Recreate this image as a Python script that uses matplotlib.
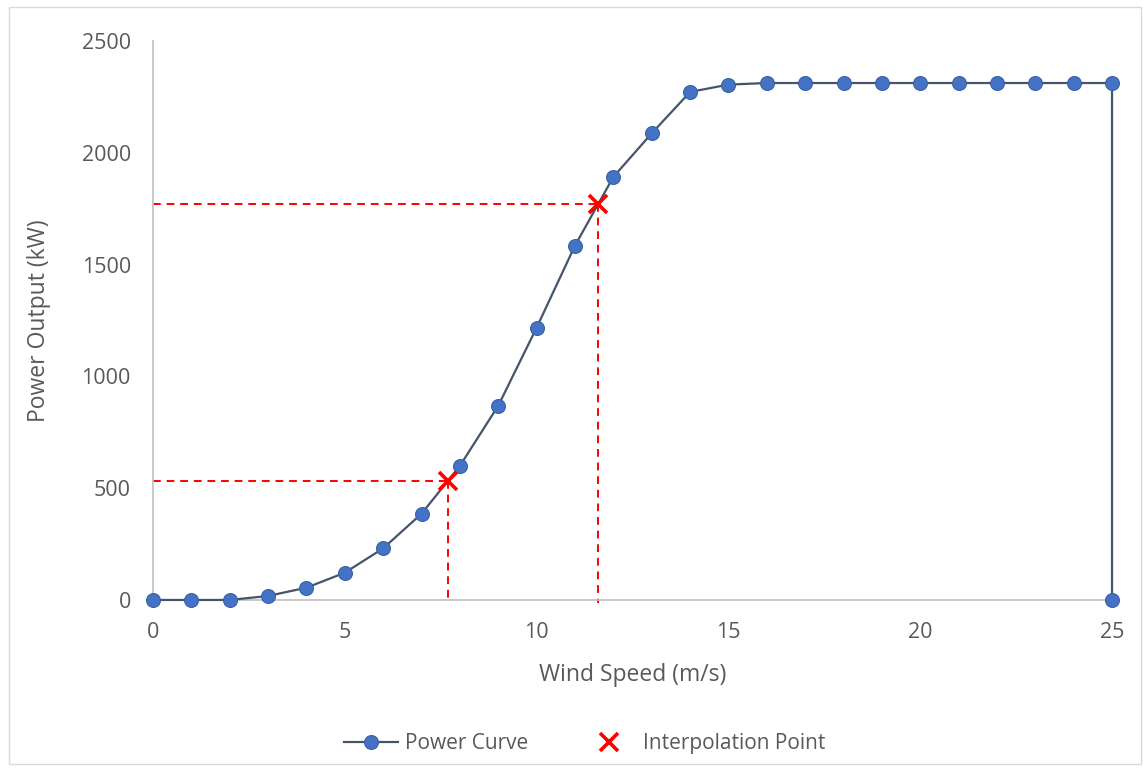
import matplotlib.pyplot as plt
from matplotlib.patches import Rectangle

# power curve (last point drops to 0 at cut-out)
wind_speed = [0, 1, 2, 3, 4, 5, 6, 7, 8, 9, 10, 11, 12, 13, 14, 15,
              16, 17, 18, 19, 20, 21, 22, 23, 24, 25, 25]
power_kw = [0, 0, 0, 18, 55, 122, 231, 386, 600, 869, 1218, 1585, 1892, 2087, 2272, 2305,
            2312, 2312, 2312, 2312, 2312, 2312, 2312, 2312, 2312, 2312, 0]

interp_speed = [7.7, 11.6]
interp_power = [534, 1770]

x_ticks = [0, 5, 10, 15, 20, 25]
y_ticks = [0, 500, 1000, 1500, 2000, 2500]

text_col = '#595959'
plt.rcParams['font.family'] = ['Open Sans', 'DejaVu Sans']

fig = plt.figure(figsize=(11.43, 7.69), dpi=100)
fig.patch.set_facecolor('white')
fig.patches.append(Rectangle((0.008, 0.006), 0.99, 0.985, transform=fig.transFigure,
                             fill=False, edgecolor='#D9D9D9', linewidth=1))
ax = fig.add_axes([0.1339, 0.2198, 0.8390, 0.7269])

# dashed guide lines from axes to interpolation points
for xs, ps in zip(interp_speed, interp_power):
    ax.plot([0, xs], [ps, ps], color='red', linestyle=(0, (4, 3)), linewidth=1.4, zorder=2)
    ax.plot([xs, xs], [ps, -12], color='red', linestyle=(0, (4, 3)), linewidth=1.4, zorder=2)

ax.plot(wind_speed, power_kw, color='#44546A', linewidth=1.6, marker='o', markersize=10,
        markerfacecolor='#4472C4', markeredgecolor='#3A62A8', markeredgewidth=0.8,
        label='Power Curve', zorder=3)
ax.plot(interp_speed, interp_power, linestyle='none', marker='x', markersize=13,
        markeredgewidth=2.6, color='red', label='Interpolation Point', zorder=4)

ax.set_xlim(0, 25)
ax.set_ylim(0, 2500)
ax.set_xticks(x_ticks)
ax.set_yticks(y_ticks)
ax.tick_params(length=0, labelsize=15.5, labelcolor=text_col)
ax.tick_params(axis='x', pad=16)
ax.tick_params(axis='y', pad=16)
for s in ['top', 'right']:
    ax.spines[s].set_visible(False)
for s in ['left', 'bottom']:
    ax.spines[s].set_color('#BFBFBF')
    ax.spines[s].set_linewidth(1.2)

ax.set_xlabel('Wind Speed (m/s)', fontsize=16.5, color=text_col, labelpad=14)
ax.set_ylabel('Power Output (kW)', fontsize=16.5, color=text_col, labelpad=22)

leg = ax.legend(loc='center', bbox_to_anchor=(0.45, -0.257), ncol=2, frameon=False,
                fontsize=15, handlelength=2.6, columnspacing=2.6, handletextpad=0.3)
for t in leg.get_texts():
    t.set_color(text_col)

for a in ax.lines:
    a.set_clip_on(False)

fig.savefig('out.png', dpi=100)
